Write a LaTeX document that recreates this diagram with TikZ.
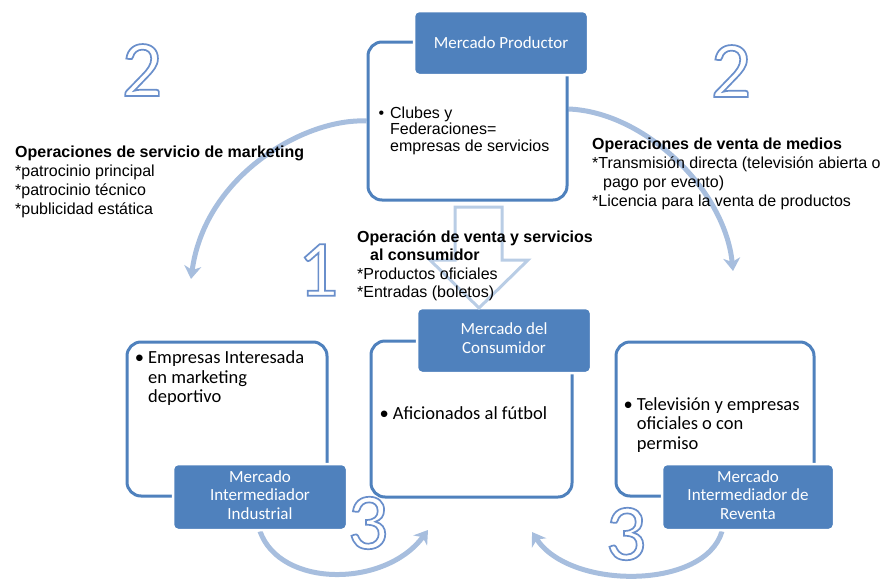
\documentclass[tikz,border=0pt]{standalone}
\usepackage{fontspec}
\usetikzlibrary{arrows.meta}
\newfontfamily\arialf{Liberation Sans}
\newfontfamily\calf{Carlito}
\definecolor{boxblue}{HTML}{4F81BD}
\definecolor{arcblue}{HTML}{A7BEDE}
\definecolor{blockblue}{HTML}{B9CDE5}
\newcommand\tl[1]{\begin{tabular}[t]{@{}l@{}}#1\end{tabular}}
\newcommand\tc[1]{\begin{tabular}{@{}c@{}}#1\end{tabular}}
\newcommand\olnum[1]{{\color{white}\special{pdf:code 0.416 0.561 0.796 RG 2 Tr 1.7 w}#1\special{pdf:code 0 Tr}}}
\pgfdeclarelayer{bg}
\pgfsetlayers{bg,main}
\tikzset{
  obox/.style={draw=boxblue, line width=3pt, rounded corners=14pt, fill=white, inner sep=0pt},
  fbox/.style={draw=white, line width=2.5pt, rounded corners=5pt, fill=boxblue, text=white,
    font=\calf\fontsize{17}{18.5}\selectfont, inner sep=0pt, align=center},
  arcarrow/.style={draw=arcblue, line width=5pt, -{Stealth[length=13pt,width=17pt,inset=4pt]}},
  optext/.style={font=\arialf\fontsize{16}{19}\selectfont, inner sep=0pt, anchor=base west},
  midtext/.style={font=\arialf\fontsize{16}{18.2}\selectfont, inner sep=0pt, anchor=base west},
  btext/.style={font=\calf\fontsize{18.5}{19.7}\selectfont, inner sep=0pt, anchor=base west},
  bnum/.style={font=\calf\fontsize{80}{80}\selectfont, inner sep=0pt}
}
\begin{document}
\begin{tikzpicture}[x=1pt,y=-1pt]
\useasboundingbox (0,0) rectangle (886,581);
% outline boxes
\node[obox, minimum width=199pt, minimum height=158pt] (prodo) at (467.5,121) {};
\node[obox, minimum width=201pt, minimum height=156pt] (conso) at (471.5,419) {};
\node[obox, minimum width=200pt, minimum height=154pt] (indo) at (227,419) {};
\node[obox, minimum width=198pt, minimum height=154pt] (revo) at (715,419) {};
% filled boxes
\node[fbox, minimum width=174pt, minimum height=64pt] (prod) at (501,43) {Mercado Productor};
\node[fbox, minimum width=174pt, minimum height=65pt] (cons) at (504,340.5) {\tc{Mercado del\\Consumidor}};
\node[fbox, minimum width=174pt, minimum height=66pt] (ind) at (260,497) {\tc{Mercado\\Intermediador\\Industrial}};
\node[fbox, minimum width=172pt, minimum height=66pt] (rev) at (748,497) {\tc{Mercado\\Intermediador de\\Reventa}};
% box texts
\node[optext, font=\arialf\fontsize{16}{16}\selectfont] (prodt) at (390,118.3) {\tl{\llap{\textbullet\hspace{6pt}}Clubes y\\Federaciones=\\empresas de servicios}};
\node[btext] (const) at (392.7,419.3) {\llap{\textbullet\hspace{4pt}}Aficionados al fútbol};
\node[btext] (indt) at (148,363.3) {\tl{\llap{\textbullet\hspace{4pt}}Empresas Interesada\\en marketing\\deportivo}};
\node[btext] (revt) at (636.7,410) {\tl{\llap{\textbullet\hspace{4pt}}Televisión y empresas\\oficiales o con\\permiso}};
% block arrow
\draw[blockblue, line width=3pt, line join=miter]
  (455,207) -- (502,207) -- (502,260) -- (528,260) -- (479,308) -- (430,260) -- (455,260) -- cycle;
% operation texts
\node[optext] (mkt) at (15,157) {\tl{\textbf{Operaciones de servicio de marketing}\\{}*patrocinio principal\\{}*patrocinio técnico\\{}*publicidad estática}};
\node[optext] (med) at (592,149) {\tl{\textbf{Operaciones de venta de medios}\\{}*Transmisión directa (televisión abierta o\\\hspace{11pt}pago por evento)\\{}*Licencia para la venta de productos}};
\node[midtext] (cst) at (357,242.7) {\tl{\textbf{Operación de venta y servicios}\\\hspace{13pt}\textbf{al consumidor}\\{}*Productos oficiales\\{}*Entradas (boletos)}};
% numerals
\node[bnum] (n2l) at (142,70) {\olnum{2}};
\node[bnum] (n2r) at (731,71) {\olnum{2}};
\node[bnum] (n1) at (318,270) {\olnum{1}};
\node[bnum] (n3l) at (368,523) {\olnum{3}};
\node[bnum] (n3r) at (626,534) {\olnum{3}};
% arcs
\coordinate (tipL) at (191,279);
\coordinate (tipR) at (733,271);
\coordinate (tipBL) at (428,530);
\coordinate (tipBR) at (532,532);
\begin{pgfonlayer}{bg}
\draw[arcarrow] (prodo.west) .. controls (305,118) and (205,175) .. (tipL);
\draw[arcarrow] ([yshift=12pt]prodo.east) .. controls (645,112) and (725,190) .. (tipR);
\draw[arcarrow] (ind.south) .. controls (280,588) and (385,588) .. (tipBL);
\draw[arcarrow] ([xshift=-26pt]rev.south) .. controls (705,590) and (570,590) .. (tipBR);
\end{pgfonlayer}
\end{tikzpicture}
\end{document}
